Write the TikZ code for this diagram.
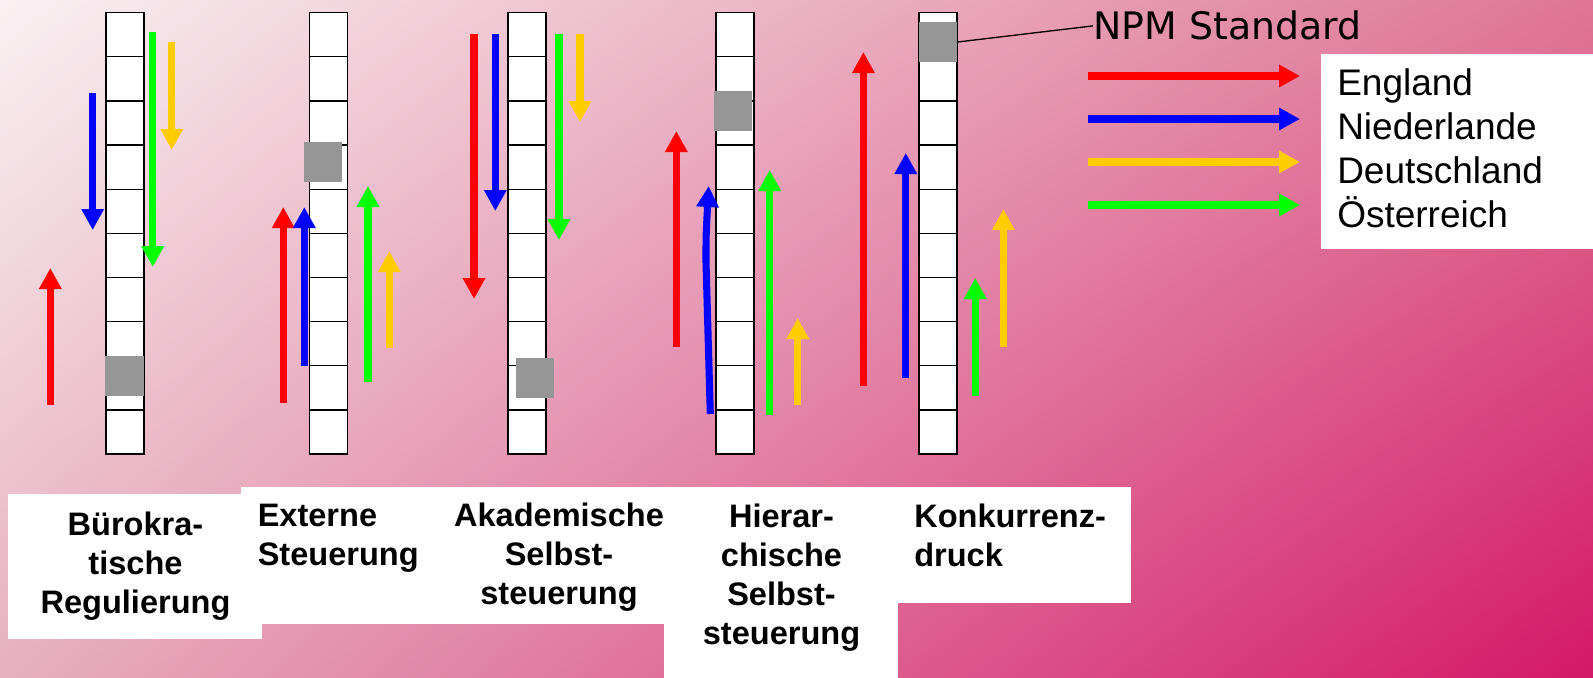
\documentclass[tikz,border=0pt]{standalone}
\usepackage{fontspec}
\setmainfont{Liberation Sans}
\newfontfamily\npmfont{DejaVu Sans}
\usetikzlibrary{arrows.meta,shadings}
\definecolor{npmgray}{RGB}{150,150,150}
\definecolor{ared}{RGB}{255,0,0}
\definecolor{ablue}{RGB}{0,0,255}
\definecolor{agreen}{RGB}{0,255,0}
\definecolor{ayellow}{RGB}{255,204,0}
\definecolor{bgul}{RGB}{249,241,243}
\definecolor{bgur}{RGB}{222,118,150}
\definecolor{bgll}{RGB}{231,176,191}
\definecolor{bglr}{RGB}{212,24,102}
\tikzset{cell/.style={draw=black,fill=white,line width=1pt},
  npmbox/.style={fill=npmgray,inner sep=0pt,minimum width=29pt,minimum height=30pt},
  arr/.style={line width=5.3pt,-{Triangle[length=15.75pt,width=16pt]}},
  lbl/.style={font=\bfseries\fontsize{24.4}{29.25}\selectfont,inner sep=0pt},
  leg/.style={font=\fontsize{27.75}{33}\selectfont,inner sep=0pt,align=left}}

\begin{document}
\begin{tikzpicture}[x=0.75pt,y=-0.75pt]
\useasboundingbox (0,0) rectangle (1593,678);
\shade[upper left=bgul,upper right=bgur,lower left=bgll,lower right=bglr] (0,0) rectangle (1593,678);
\foreach \x in {125,328.5,527,735,938}
  \foreach \i in {0,...,9}
    \draw[cell] (\x-19,12.7+44.13*\i) rectangle ++(38,44.13);
\node[npmbox] (g1) at (124.5,376) {};
\node[npmbox] (g2) at (323,162) {};
\node[npmbox] (g3) at (535,378) {};
\node[npmbox] (g4) at (733,111) {};
\node[npmbox] (g5) at (938,42) {};
\node[font=\npmfont\fontsize{28.4}{33}\selectfont,anchor=base west,inner sep=0pt] (npm) at (1093,40) {NPM Standard};
\draw[line width=1pt] (g5.east) -- (npm.west);
\fill[white] (8,494) rectangle (262,639);
\fill[white] (241,487) rectangle (664,624);
\fill[white] (664,487) rectangle (898,678);
\fill[white] (898,487) rectangle (1131,603);
\fill[white] (1321,54) rectangle (1593,249);
\node[lbl,align=center,anchor=base] (buero) at (135.5,613) {Bürokra-\\tische\\Regulierung};
\node[lbl,align=left,anchor=base west] (extern) at (257.5,565) {Externe\\Steuerung};
\node[lbl,align=center,anchor=base] (akad) at (559,604) {Akademische\\Selbst-\\steuerung};
\node[lbl,align=center,anchor=base] (hier) at (781.5,644) {Hierar-\\chische\\Selbst-\\steuerung};
\node[lbl,align=left,anchor=base west] (konk) at (914,566) {Konkurrenz-\\druck};
\node[leg,anchor=base west] (legend) at (1337,227) {England\\Niederlande\\Deutschland\\Österreich};
\foreach \y/\c in {76/ared,119/ablue,162/ayellow,205/agreen}
  \draw[arr,\c] (1088,\y) -- (1300,\y);
\foreach \x/\a/\b/\c in {50.3/405/268/ared,92.7/93/230/ablue,152.7/32/267/agreen,171.7/42/150/ayellow,
  283.3/403/207/ared,304.3/366/207/ablue,368/382/186/agreen,389.3/348/251/ayellow,
  474/34/299/ared,495.3/34/211/ablue,559/34/240/agreen,580/34/122/ayellow,
  676.3/347/131/ared,769.7/415/170/agreen,797.7/405/318/ayellow,
  863.4/386/52/ared,905.8/378/153/ablue,975.3/396/278/agreen,1003.4/347/209/ayellow}
  \draw[arr,\c] (\x,\a) -- (\x,\b);
\draw[arr,ablue] (710.3,414) -- (706,262) .. controls (706,235) .. (708.7,186);
\end{tikzpicture}
\end{document}
